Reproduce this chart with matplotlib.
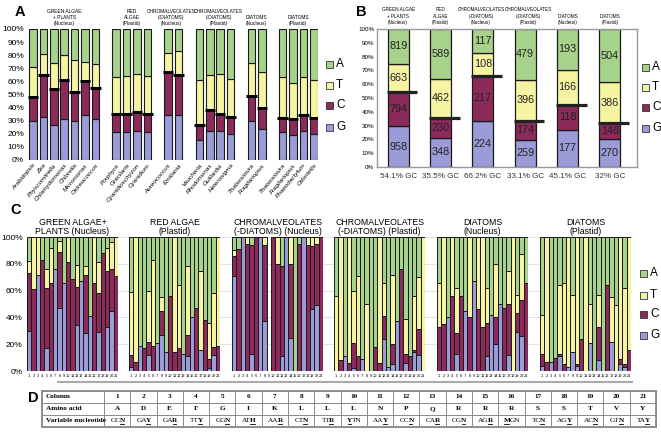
import matplotlib
matplotlib.use("Agg")
import matplotlib.pyplot as plt
from matplotlib.lines import Line2D
from matplotlib.patches import Rectangle
import numpy as np

W, H = 661, 434
plt.rcParams["font.family"] = ["Liberation Sans", "DejaVu Sans"]

# nucleotide colours (G bottom -> A top)
COL = {"G": "#9b9bd8", "C": "#8c2a5c", "T": "#f6f4a3", "A": "#a6d28c"}
ORDER = ["G", "C", "T", "A"]

GROUPS = ["GREEN ALGAE\n+ PLANTS\n(Nucleus)", "RED\nALGAE\n(Plastid)",
          "CHROMALVEOLATES\n(-DIATOMS)\n(Nucleus)", "CHROMALVEOLATES\n(-DIATOMS)\n(Plastid)",
          "DIATOMS\n(Nucleus)", "DIATOMS\n(Plastid)"]

# ---- panel A: per-species composition (cumulative % tops for G, G+C, G+C+T)
A_GROUP_SIZES = [7, 4, 2, 4, 2, 4]
A_SPECIES = ["Arabidopsis", "Zea", "Physcomitrella", "Chlamydomonas", "Chlorella",
             "Micromonas", "Ostreococcus",
             "Porphyra", "Gracilaria", "Cyanidioschyzon", "Cyanidium",
             "Aureococcus", "Emiliania",
             "Vaucheria", "Rhodomonas", "Guillardia", "Heterosigma",
             "Thalassiosira", "Fragilariopsis",
             "Thalassiosira", "Fragilariopsis", "Phaeodactylum", "Odontella"]
A_G = [30, 33, 27, 31, 30, 34, 31, 21, 21, 22, 21, 34, 34, 15, 22, 22, 20, 30, 24, 21, 19, 22, 20]
A_GC = [48, 65, 54, 61, 52, 60, 55, 35, 35, 37, 35, 67, 65, 27, 38, 35, 33, 49, 40, 32, 31, 34, 32]
A_GCT = [71, 81, 74, 80, 76, 75, 73, 63, 64, 66, 64, 82, 83, 61, 65, 66, 62, 74, 67, 63, 59, 63, 61]

# ---- panel B: pooled counts per group
B_G = [958, 348, 224, 259, 177, 270]
B_C = [794, 230, 217, 174, 118, 148]
B_T = [663, 462, 108, 396, 166, 386]
B_A = [819, 589, 117, 479, 193, 504]
B_XLAB = ["54.1% GC", "35.5% GC", "66.2% GC", "33.1% GC", "45.1% GC", "32% GC"]

# ---- panel C: per-column composition, (G top, G+C top, G+C+T top) in %
C_TITLES = ["GREEN ALGAE+\nPLANTS (Nucleus)", "RED ALGAE\n(Plastid)",
            "CHROMALVEOLATES\n(-DIATOMS) (Nucleus)", "CHROMALVEOLATES\n(-DIATOMS) (Plastid)",
            "DIATOMS\n(Nucleus)", "DIATOMS\n(Plastid)"]
C_GREEN_NUC = [(30, 73, 82), (0, 61, 100), (72, 72, 100), (0, 83, 83), (17, 62, 76), (0, 66, 92),
               (76, 76, 76), (47, 89, 97), (66, 66, 66), (0, 81, 100), (0, 69, 69), (34, 63, 79),
               (67, 67, 67), (28, 72, 78), (41, 41, 41), (0, 66, 100), (29, 58, 81), (0, 88, 88),
               (33, 75, 92), (45, 76, 96), (0, 71, 100)]
C_RED_PLA = [(3, 12, 59), (0, 7, 100), (19, 19, 19), (0, 17, 17), (12, 22, 60), (0, 19, 83),
             (21, 21, 21), (27, 45, 55), (14, 14, 14), (0, 56, 56), (0, 14, 100), (0, 17, 64),
             (13, 13, 13), (11, 27, 78), (40, 40, 40), (0, 47, 47), (16, 16, 75), (0, 38, 38),
             (2, 9, 36), (12, 18, 58), (0, 19, 100)]
C_CHROM_NUC = [(71, 86, 90), (0, 91, 91), (100, 100, 100), (0, 95, 100), (13, 94, 94), (0, 100, 100),
               (100, 100, 100), (37, 94, 100), None, (0, 100, 100), (0, 80, 100), (11, 78, 78),
               (100, 100, 100), (25, 80, 100), (0, 0, 0), (0, 95, 95), (100, 100, 100), (0, 94, 100),
               (46, 93, 100), (49, 95, 100), (0, 100, 100)]
C_CHROM_PLA = [(0, 0, 56), (0, 8, 100), (11, 11, 11), (0, 6, 100), (2, 21, 60), (0, 11, 71),
               (9, 9, 9), (0, 0, 50), (0, 0, 0), (0, 18, 18), (0, 6, 100), (24, 41, 66),
               (3, 3, 3), (5, 20, 72), (37, 37, 37), (0, 76, 76), (6, 13, 39), (0, 11, 11),
               (14, 16, 56), (12, 31, 70), (0, 0, 100)]
C_DIAT_NUC = [(0, 33, 66), (0, 35, 100), (40, 40, 40), (0, 56, 100), (13, 28, 62), (0, 56, 56),
              (45, 45, 45), (0, 40, 100), (67, 67, 67), (0, 46, 100), (0, 33, 100), (11, 36, 62),
              (42, 42, 42), (20, 40, 80), (50, 50, 50), (0, 47, 47), (12, 50, 75), (0, 0, 100),
              (29, 43, 57), (26, 53, 87), (0, 66, 66)]
C_DIAT_PLA = [(4, 13, 42), (0, 7, 100), (7, 7, 7), (0, 10, 10), (11, 13, 64), (0, 5, 66),
              (3, 3, 100), (14, 14, 57), (4, 5, 100), (0, 24, 24), (0, 0, 100), (21, 21, 50),
              (0, 0, 0), (8, 33, 57), (0, 0, 0), (0, 64, 64), (22, 22, 55), (0, 0, 49),
              (5, 9, 100), (3, 5, 62), (0, 16, 100)]
C_DATA = [C_GREEN_NUC, C_RED_PLA, C_CHROM_NUC, C_CHROM_PLA, C_DIAT_NUC, C_DIAT_PLA]

# ---- panel D: codon table
D_AMINO = ["A", "D", "E", "F", "G", "I", "K", "L", "L", "L", "N", "P", "Q", "R", "R", "R",
           "S", "S", "T", "V", "Y"]
D_CODON = ["GCN", "GAY", "GAR", "TTY", "GGN", "ATH", "AAR", "CTN", "TTR", "YTN", "AAY", "CCN",
           "CAR", "CGN", "AGR", "MGN", "TCN", "AGY", "ACN", "GTN", "TAY"]
D_VARPOS = [2, 2, 2, 2, 2, 2, 2, 2, 2, 0, 2, 2, 2, 2, 2, 0, 2, 2, 2, 2, 2]

fig = plt.figure(figsize=(W / 100, H / 100), dpi=100)


def px_axes(x0, y0, x1, y1, **kw):
    return fig.add_axes([x0 / W, 1 - y1 / H, (x1 - x0) / W, (y1 - y0) / H], **kw)


def fx(x):
    return x / W


def fy(y):
    return 1 - y / H


def segments(g, gc, gct):
    g, gc, gct = np.array(g, float), np.array(gc, float), np.array(gct, float)
    return [g, gc - g, gct - gc, 100 - gct]


def legend_at(x, ys):
    for nt, y in zip(["A", "T", "C", "G"], ys):
        fig.patches.append(Rectangle((fx(x), fy(y + 3.5)), 7 / W, 7 / H, transform=fig.transFigure,
                                     facecolor=COL[nt], edgecolor="#333333", lw=0.6))
        fig.text(fx(x + 10), fy(y), nt, fontsize=8.5, va="center", ha="left")


def pct_axis(ax, ticks, size):
    ax.set_ylim(0, 100)
    ax.set_yticks(ticks)
    ax.set_yticklabels([f"{t}%" for t in ticks], fontsize=size)
    ax.tick_params(axis="y", length=0, pad=2)


def head(t):
    return t.upper().replace("(NUCLEUS)", "(Nucleus)").replace("(PLASTID)", "(Plastid)")


# small nudges so the two long CHROMALVEOLATES headers sit side by side
A_HEAD_SHIFT = [0, 0, -0.25, 0.35, 0, 0]
B_HEAD_SHIFT = [0, 0, -0.04, 0.08, 0, 0]

# ================= A
axA = px_axes(27, 29, 318, 160)
xs, slot, centers = [], 0, []
for n in A_GROUP_SIZES:
    grp = list(range(slot, slot + n))
    xs += grp
    centers.append(np.mean(grp))
    slot += n + 1
xs = np.array(xs)
bottom = np.zeros(len(xs))
for nt, seg in zip(ORDER, segments(A_G, A_GC, A_GCT)):
    axA.bar(xs, seg, bottom=bottom, width=0.72, color=COL[nt], edgecolor="#1a1a1a", lw=0.8)
    bottom += seg
axA.hlines(A_GC, xs - 0.5, xs + 0.5, color="black", lw=2.2, zorder=4)
axA.set_xlim(-0.58, 27.4)
pct_axis(axA, range(0, 101, 10), 6)
axA.set_xticks(xs)
axA.set_xticklabels(A_SPECIES, rotation=50, ha="right", rotation_mode="anchor",
                    fontsize=4.6, style="italic")
axA.tick_params(axis="x", length=0, pad=2)
for s in axA.spines.values():
    s.set_visible(False)
for cx, t, dx in zip(centers, GROUPS, A_HEAD_SHIFT):
    axA.text(cx + dx, 1.025, head(t), transform=axA.get_xaxis_transform(), ha="center",
             va="bottom", fontsize=3.5, linespacing=1.25)
legend_at(326, [64, 85, 105, 127])

# ================= B
axB = px_axes(377, 29, 637, 167)
bx = np.arange(6)
Btot = np.array(B_G) + np.array(B_C) + np.array(B_T) + np.array(B_A)
bottom = np.zeros(6)
for nt, cnt in zip(ORDER, [B_G, B_C, B_T, B_A]):
    frac = np.array(cnt) / Btot * 100
    axB.bar(bx, frac, bottom=bottom, width=0.5, color=COL[nt], edgecolor="#1a1a1a", lw=0.9)
    for x, b, f, v in zip(bx, bottom, frac, cnt):
        axB.text(x, b + f / 2, str(v), ha="center", va="center", fontsize=7.8, color="#222222")
    bottom += frac
gcb = (np.array(B_G) + np.array(B_C)) / Btot * 100
axB.hlines(gcb, bx - 0.27, bx + 0.45, color="#222222", lw=2.3, zorder=4)
axB.set_xlim(-0.5, 5.64)
pct_axis(axB, range(0, 101, 10), 4.5)
axB.set_xticks(bx)
axB.set_xticklabels(B_XLAB, fontsize=5.8, color="#333333")
axB.tick_params(axis="x", length=0, pad=4)
for s in axB.spines.values():
    s.set_color("#9a9a9a")
    s.set_linewidth(1.0)
for x, t, dx in zip(bx, GROUPS, B_HEAD_SHIFT):
    axB.text(x + dx, 1.03, head(t), transform=axB.get_xaxis_transform(), ha="center",
             va="bottom", fontsize=3.3, linespacing=1.3)
legend_at(642, [67, 87, 107, 128])

# ================= C
bg = px_axes(27, 237, 632, 371)
bg.set_ylim(0, 100)
bg.set_yticks(range(0, 101, 20))
bg.set_yticklabels([f"{t}%" for t in range(0, 101, 20)], fontsize=6)
bg.tick_params(axis="y", length=0, pad=3)
bg.set_xticks([])
bg.grid(axis="y", color="#e2e2e2", lw=0.8)
for s in bg.spines.values():
    s.set_visible(False)

c_left = [27, 129, 232, 334, 437, 540]
cx = np.arange(21)
for x0, data, title in zip(c_left, C_DATA, C_TITLES):
    ax = px_axes(x0, 237, x0 + 91, 371)
    ax.patch.set_alpha(0)
    keep = [i for i, d in enumerate(data) if d is not None]
    g = [data[i][0] for i in keep]
    gc = [data[i][1] for i in keep]
    gct = [data[i][2] for i in keep]
    bottom = np.zeros(len(keep))
    for nt, seg in zip(ORDER, segments(g, gc, gct)):
        ax.bar(cx[keep], seg, bottom=bottom, width=1.0, color=COL[nt], edgecolor="#1a1a1a", lw=0.7)
        bottom += seg
    ax.set_xlim(-0.5, 20.5)
    ax.set_ylim(0, 100)
    ax.set_yticks([])
    ax.set_xticks(cx)
    ax.set_xticklabels([str(i + 1) for i in cx], fontsize=2.8)
    ax.tick_params(axis="x", length=0, pad=2)
    for s in ax.spines.values():
        s.set_visible(False)
    ax.set_title(title, fontsize=6.3, pad=2, linespacing=1.1)
legend_at(640, [273, 295, 314, 335])
fig.add_artist(Line2D([fx(58), fx(632)], [fy(382), fy(382)], transform=fig.transFigure,
                      color="#aaaaaa", lw=1.5))

# ================= D table
tl, tr, c0 = 42, 656, 104
cw = (tr - c0) / 21
rows = [391, 403, 415, 427]
lc = "#8a8a8a"
for y in rows:
    fig.add_artist(Line2D([fx(tl), fx(tr)], [fy(y), fy(y)], transform=fig.transFigure, color=lc, lw=0.7))
for x in [tl, c0] + [c0 + cw * (i + 1) for i in range(21)]:
    fig.add_artist(Line2D([fx(x), fx(x)], [fy(rows[0]), fy(rows[-1])], transform=fig.transFigure,
                          color=lc, lw=0.7))
fig.patches.append(Rectangle((fx(tl), fy(rows[-1])), (tr - tl) / W, (rows[-1] - rows[0]) / H,
                             transform=fig.transFigure, fill=False, edgecolor=lc, lw=1.3))
SER = ["Liberation Serif", "DejaVu Serif"]
DFS = 5.2
for lab, y in zip(["Column", "Amino acid", "Variable nucleotide"], rows[:3]):
    fig.text(fx(tl + 4), fy(y + 6), lab, fontsize=DFS, family=SER, fontweight="bold",
             ha="left", va="center")
renderer = fig.canvas.get_renderer()


def text_width(s, weight):
    t = fig.text(0, 0, s, fontsize=DFS, family=SER, fontweight=weight)
    w = t.get_window_extent(renderer=renderer).width
    t.remove()
    return w


for i in range(21):
    xc = c0 + cw * (i + 0.5)
    fig.text(fx(xc), fy(rows[0] + 6), str(i + 1), fontsize=DFS, family=SER, fontweight="bold",
             ha="center", va="center")
    fig.text(fx(xc), fy(rows[1] + 6), D_AMINO[i], fontsize=DFS, family=SER, fontweight="bold",
             ha="center", va="center")
    codon, p = D_CODON[i], D_VARPOS[i]
    parts = [(codon[:p], "normal", False), (codon[p], "bold", True), (codon[p + 1:], "normal", False)]
    parts = [q for q in parts if q[0]]
    widths = [text_width(s, w) - 1.0 for s, w, _ in parts]
    x = xc - sum(widths) / 2
    for (s, w, u), wd in zip(parts, widths):
        fig.text(fx(x), fy(rows[2] + 6), s, fontsize=DFS, family=SER, fontweight=w,
                 ha="left", va="center")
        if u:
            fig.add_artist(Line2D([fx(x + 0.3), fx(x + wd - 0.2)], [fy(rows[2] + 9.3)] * 2,
                                  transform=fig.transFigure, color="black", lw=0.6))
        x += wd

# panel letters
for lab, x, y in [("A", 20, 12), ("B", 361, 12), ("C", 16, 210), ("D", 33, 398)]:
    fig.text(fx(x), fy(y), lab, fontsize=10.5, fontweight="bold", ha="center", va="center")

fig.savefig("out.png", dpi=100, facecolor="white")
